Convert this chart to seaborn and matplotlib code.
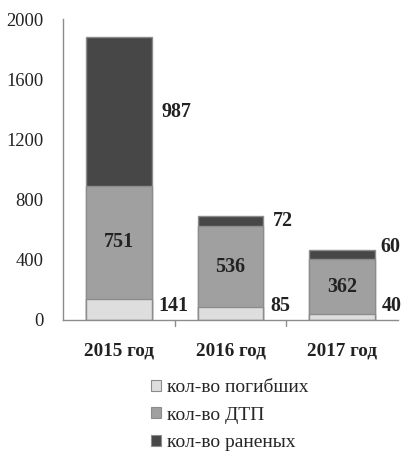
import numpy as np
import pandas as pd
import matplotlib
matplotlib.use("Agg")
import matplotlib.pyplot as plt
import seaborn as sns
from matplotlib.patches import Patch

# данные
years = ["2015 год", "2016 год", "2017 год"]
killed = [141, 85, 40]
accidents = [751, 536, 362]
injured = [987, 72, 60]
series_names = ["кол-во погибших", "кол-во ДТП", "кол-во раненых"]
colors = ["#dedede", "#a0a0a0", "#474747"]

sns.set_style("white")
plt.rcParams["font.family"] = ["Liberation Serif", "DejaVu Serif"]

df = pd.DataFrame({
    "year": years,
    "killed": killed,
    "accidents": accidents,
    "injured": injured,
})
df["lvl1"] = df["killed"]
df["lvl2"] = df["killed"] + df["accidents"]
df["lvl3"] = df["lvl2"] + df["injured"]

fig = plt.figure(figsize=(4.03, 4.55), dpi=100)
ax = fig.add_axes([0.156, 0.297, 0.832, 0.661])

# стек через наложение столбцов (сверху вниз)
for col, c in zip(["lvl3", "lvl2", "lvl1"], colors[::-1]):
    sns.barplot(data=df, x="year", y=col, color=c, width=0.59,
                edgecolor="#8c8c8c", linewidth=1.0, ax=ax,
                saturation=1)

ax.set_ylim(0, 2000)
ax.set_xlim(-0.5, 2.5)
ax.set_yticks(np.arange(0, 2001, 400))
ax.set_xlabel("")
ax.set_ylabel("")

for s in ["top", "right"]:
    ax.spines[s].set_visible(False)
for s in ["left", "bottom"]:
    ax.spines[s].set_color("#8c8c8c")
    ax.spines[s].set_linewidth(1.0)

ax.tick_params(axis="y", direction="out", length=6, color="#8c8c8c",
               labelsize=13.3, pad=8, labelcolor="#222222")
ax.set_xticks([0, 1, 2])
ax.set_xticklabels(years, fontsize=13.8, fontweight="bold", color="#222222")
ax.tick_params(axis="x", length=0, pad=16)
# деления между категориями
for xb in [0.5, 1.5]:
    ax.plot([xb, xb], [0, -0.02], transform=ax.get_xaxis_transform(),
            color="#8c8c8c", lw=1.0, clip_on=False)

# подписи значений
half = 0.59 / 2
lab = dict(fontsize=14.4, fontweight="bold", color="#222222")
for i in range(3):
    k, a, r = killed[i], accidents[i], injured[i]
    ax.annotate(str(a), (i, k + a / 2), ha="center", va="center", **lab)
    ax.annotate(str(k), (i + half, max(k / 2, 95)), xytext=(5, 0),
                textcoords="offset points", ha="left", va="center", **lab)
    dx, dy = (7, 0) if i < 2 else (4, 6)
    ax.annotate(str(r), (i + half, k + a + r / 2), xytext=(dx, dy),
                textcoords="offset points", ha="left", va="center", **lab)

handles = [Patch(facecolor=c, edgecolor="#8c8c8c", linewidth=0.8)
           for c in colors]
fig.legend(handles, series_names, loc="upper left",
           bbox_to_anchor=(0.375, 0.167), frameon=False,
           prop={"family": ["Liberation Serif"], "size": 14},
           handlelength=0.5, handleheight=0.5, handletextpad=0.3,
           labelspacing=0.55, borderaxespad=0, borderpad=0)

fig.savefig("out.png", dpi=100)
